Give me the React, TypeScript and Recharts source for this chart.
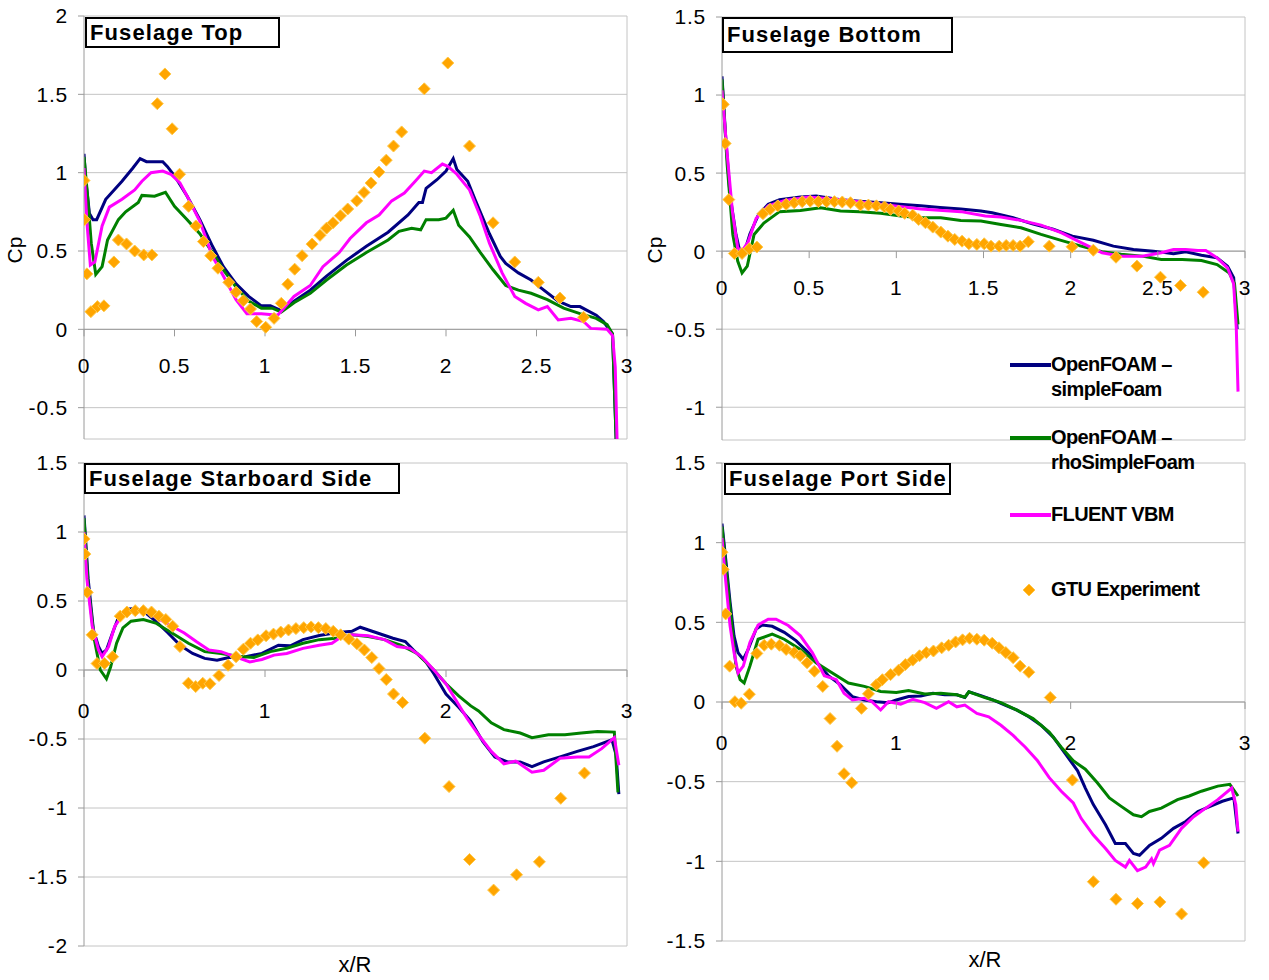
import { ComposedChart, Line, Scatter, XAxis, YAxis, CartesianGrid, ReferenceLine, ReferenceDot } from 'recharts'

type Pair = [number, number]

// ---- Fuselage Top ----
const topSimple: Pair[] = [[0,1.12],[0.01,0.95],[0.03,0.74],[0.05,0.70],[0.07,0.70],[0.12,0.83],[0.21,0.945],[0.27,1.03],[0.31,1.09],[0.345,1.07],[0.435,1.07],[0.46,1.04],[0.5,0.98],[0.57,0.85],[0.64,0.70],[0.71,0.53],[0.77,0.40],[0.84,0.29],[0.91,0.21],[0.98,0.15],[1.03,0.15],[1.09,0.12],[1.16,0.18],[1.25,0.25],[1.34,0.34],[1.45,0.44],[1.56,0.53],[1.68,0.62],[1.79,0.73],[1.85,0.81],[1.87,0.81],[1.89,0.90],[1.95,0.955],[2.0,1.01],[2.04,1.09],[2.06,1.02],[2.12,0.945],[2.16,0.83],[2.24,0.61],[2.30,0.465],[2.33,0.42],[2.40,0.36],[2.47,0.315],[2.53,0.26],[2.62,0.18],[2.69,0.145],[2.74,0.145],[2.83,0.09],[2.87,0.05],[2.92,-0.03],[2.94,-0.7]]
const topRho: Pair[] = [[0,1.10],[0.02,0.85],[0.04,0.55],[0.065,0.35],[0.10,0.40],[0.13,0.57],[0.19,0.70],[0.23,0.75],[0.30,0.81],[0.32,0.855],[0.39,0.85],[0.45,0.875],[0.50,0.785],[0.57,0.70],[0.64,0.61],[0.71,0.49],[0.77,0.38],[0.84,0.27],[0.91,0.18],[0.98,0.135],[1.04,0.135],[1.09,0.11],[1.16,0.17],[1.25,0.23],[1.34,0.315],[1.45,0.41],[1.56,0.49],[1.68,0.57],[1.74,0.625],[1.81,0.645],[1.86,0.635],[1.89,0.70],[1.96,0.70],[2.0,0.71],[2.04,0.76],[2.07,0.665],[2.13,0.59],[2.19,0.49],[2.26,0.38],[2.33,0.28],[2.40,0.25],[2.47,0.23],[2.56,0.19],[2.65,0.135],[2.74,0.10],[2.83,0.07],[2.89,0.03],[2.92,-0.03],[2.94,-0.7]]
const topFluent: Pair[] = [[0,1.03],[0.015,0.70],[0.035,0.41],[0.06,0.43],[0.10,0.66],[0.14,0.78],[0.21,0.83],[0.28,0.89],[0.32,0.945],[0.37,1.0],[0.435,1.01],[0.48,0.99],[0.53,0.935],[0.57,0.85],[0.64,0.69],[0.71,0.465],[0.77,0.34],[0.84,0.19],[0.90,0.10],[0.98,0.10],[1.07,0.09],[1.16,0.21],[1.25,0.28],[1.32,0.40],[1.41,0.49],[1.47,0.58],[1.56,0.68],[1.63,0.73],[1.70,0.82],[1.77,0.87],[1.83,0.945],[1.88,1.01],[1.92,1.0],[1.98,1.055],[2.01,1.04],[2.06,0.99],[2.13,0.89],[2.19,0.72],[2.24,0.55],[2.31,0.36],[2.38,0.21],[2.44,0.166],[2.51,0.124],[2.56,0.145],[2.62,0.06],[2.69,0.07],[2.76,0.05],[2.80,0.006],[2.89,0.0],[2.92,-0.04],[2.935,-0.24],[2.945,-0.7]]
const topExp: Pair[] = [[0,0.95],[0.003,0.70],[0.016,0.354],[0.038,0.113],[0.074,0.145],[0.11,0.15],[0.165,0.43],[0.19,0.57],[0.235,0.545],[0.28,0.50],[0.33,0.475],[0.375,0.475],[0.405,1.44],[0.447,1.63],[0.487,1.28],[0.528,0.99],[0.578,0.785],[0.618,0.66],[0.66,0.56],[0.70,0.47],[0.74,0.39],[0.80,0.30],[0.84,0.237],[0.88,0.183],[0.92,0.13],[0.954,0.05],[1.004,0.013],[1.05,0.07],[1.09,0.166],[1.126,0.288],[1.164,0.384],[1.205,0.47],[1.26,0.544],[1.304,0.60],[1.34,0.646],[1.376,0.68],[1.417,0.725],[1.457,0.768],[1.507,0.82],[1.547,0.874],[1.586,0.934],[1.63,1.004],[1.67,1.08],[1.71,1.17],[1.755,1.26],[1.88,1.535],[2.01,1.70],[2.13,1.17],[2.26,0.68],[2.38,0.43],[2.51,0.30],[2.63,0.20],[2.76,0.077]]

// ---- Fuselage Bottom ----
const bottomSimple: Pair[] = [[0,1.12],[0.02,0.75],[0.046,0.36],[0.08,0.107],[0.10,0.01],[0.13,0],[0.16,0.11],[0.21,0.235],[0.265,0.30],[0.33,0.33],[0.45,0.347],[0.54,0.353],[0.68,0.33],[0.79,0.32],[0.91,0.31],[1.02,0.30],[1.14,0.29],[1.25,0.28],[1.37,0.27],[1.485,0.257],[1.55,0.246],[1.67,0.214],[1.78,0.175],[1.90,0.14],[2.01,0.096],[2.13,0.07],[2.245,0.032],[2.36,0.01],[2.475,0],[2.59,-0.017],[2.66,-0.004],[2.75,-0.026],[2.84,-0.043],[2.90,-0.096],[2.935,-0.17],[2.955,-0.5]]
const bottomRho: Pair[] = [[0,1.10],[0.03,0.55],[0.062,0.107],[0.09,-0.064],[0.115,-0.14],[0.145,-0.096],[0.184,0.107],[0.24,0.18],[0.33,0.253],[0.45,0.26],[0.565,0.278],[0.68,0.257],[0.79,0.253],[0.91,0.242],[1.025,0.225],[1.14,0.214],[1.255,0.214],[1.37,0.197],[1.485,0.193],[1.60,0.171],[1.715,0.15],[1.83,0.107],[1.945,0.069],[2.06,0.032],[2.18,-0.004],[2.29,-0.02],[2.41,-0.032],[2.52,-0.054],[2.64,-0.054],[2.75,-0.06],[2.84,-0.086],[2.91,-0.14],[2.94,-0.21],[2.96,-0.47]]
const bottomFluent: Pair[] = [[0,1.03],[0.03,0.62],[0.06,0.25],[0.09,0.02],[0.115,0],[0.15,0.06],[0.196,0.21],[0.265,0.29],[0.36,0.325],[0.495,0.347],[0.68,0.33],[0.91,0.30],[1.14,0.27],[1.37,0.253],[1.51,0.225],[1.60,0.218],[1.715,0.197],[1.83,0.167],[1.945,0.118],[2.06,0.054],[2.18,-0.01],[2.29,-0.032],[2.41,-0.032],[2.52,-0.01],[2.59,0.01],[2.66,0.01],[2.73,0.004],[2.775,0.004],[2.84,-0.043],[2.90,-0.107],[2.935,-0.21],[2.95,-0.49],[2.96,-0.9]]
const bottomExp: Pair[] = [[0,0.946],[0.007,0.94],[0.018,0.69],[0.039,0.33],[0.071,-0.015],[0.115,-0.015],[0.157,0.015],[0.20,0.026],[0.235,0.24],[0.276,0.268],[0.32,0.29],[0.368,0.30],[0.414,0.31],[0.46,0.317],[0.506,0.32],[0.553,0.317],[0.60,0.317],[0.645,0.317],[0.69,0.315],[0.737,0.31],[0.794,0.295],[0.84,0.295],[0.886,0.29],[0.932,0.283],[0.967,0.268],[1.013,0.257],[1.048,0.242],[1.094,0.23],[1.128,0.203],[1.167,0.182],[1.209,0.154],[1.255,0.122],[1.296,0.096],[1.335,0.075],[1.377,0.064],[1.416,0.047],[1.462,0.043],[1.504,0.047],[1.543,0.032],[1.59,0.032],[1.63,0.036],[1.67,0.036],[1.71,0.032],[1.757,0.06],[1.877,0.032],[2.008,0.028],[2.13,0.006],[2.26,-0.039],[2.38,-0.096],[2.515,-0.167],[2.63,-0.22],[2.76,-0.263]]

// ---- Fuselage Starboard Side ----
const starSimple: Pair[] = [[0,1.12],[0.023,0.66],[0.052,0.29],[0.08,0.17],[0.10,0.12],[0.124,0.145],[0.158,0.27],[0.19,0.38],[0.237,0.44],[0.283,0.445],[0.34,0.415],[0.396,0.354],[0.463,0.27],[0.53,0.18],[0.60,0.12],[0.667,0.084],[0.735,0.071],[0.80,0.09],[0.893,0.096],[0.983,0.12],[1.074,0.18],[1.14,0.175],[1.21,0.22],[1.30,0.25],[1.39,0.27],[1.48,0.28],[1.526,0.31],[1.617,0.27],[1.707,0.23],[1.775,0.206],[1.82,0.145],[1.888,0.06],[1.933,-0.027],[2.0,-0.174],[2.07,-0.27],[2.137,-0.37],[2.204,-0.52],[2.27,-0.63],[2.34,-0.666],[2.41,-0.666],[2.475,-0.70],[2.54,-0.666],[2.63,-0.63],[2.725,-0.59],[2.815,-0.555],[2.917,-0.506],[2.94,-0.617],[2.955,-0.90]]
const starRho: Pair[] = [[0,1.10],[0.023,0.61],[0.057,0.22],[0.09,0],[0.124,-0.064],[0.147,0.022],[0.18,0.194],[0.215,0.305],[0.26,0.354],[0.328,0.366],[0.396,0.34],[0.486,0.268],[0.577,0.194],[0.667,0.133],[0.757,0.12],[0.848,0.10],[0.938,0.09],[1.03,0.133],[1.12,0.157],[1.21,0.194],[1.30,0.22],[1.39,0.23],[1.48,0.255],[1.57,0.243],[1.66,0.22],[1.75,0.18],[1.84,0.12],[1.933,0],[2.0,-0.1],[2.07,-0.187],[2.137,-0.26],[2.18,-0.297],[2.25,-0.383],[2.32,-0.432],[2.41,-0.457],[2.475,-0.49],[2.566,-0.47],[2.657,-0.47],[2.747,-0.457],[2.837,-0.445],[2.93,-0.45],[2.95,-0.887]]
const starFluent: Pair[] = [[0,1.0],[0.016,0.66],[0.045,0.32],[0.08,0.145],[0.10,0.096],[0.136,0.17],[0.17,0.317],[0.215,0.40],[0.283,0.44],[0.35,0.42],[0.418,0.366],[0.486,0.317],[0.554,0.268],[0.62,0.206],[0.69,0.145],[0.757,0.133],[0.825,0.10],[0.916,0.059],[0.983,0.076],[1.05,0.108],[1.12,0.12],[1.21,0.157],[1.30,0.18],[1.37,0.194],[1.41,0.23],[1.48,0.255],[1.57,0.248],[1.66,0.22],[1.73,0.17],[1.80,0.157],[1.865,0.096],[1.933,0],[2.0,-0.1],[2.046,-0.2],[2.114,-0.346],[2.18,-0.47],[2.25,-0.59],[2.32,-0.68],[2.385,-0.66],[2.475,-0.74],[2.54,-0.727],[2.63,-0.64],[2.725,-0.63],[2.79,-0.63],[2.86,-0.57],[2.93,-0.49],[2.955,-0.69]]
const starExp: Pair[] = [[0,0.95],[0.005,0.84],[0.018,0.563],[0.045,0.255],[0.072,0.047],[0.113,0.047],[0.158,0.096],[0.20,0.39],[0.237,0.42],[0.283,0.43],[0.328,0.43],[0.373,0.42],[0.414,0.39],[0.452,0.366],[0.49,0.317],[0.53,0.17],[0.577,-0.096],[0.617,-0.12],[0.656,-0.096],[0.696,-0.10],[0.746,-0.04],[0.796,0.034],[0.84,0.096],[0.88,0.15],[0.92,0.194],[0.96,0.218],[1.006,0.248],[1.047,0.26],[1.087,0.275],[1.13,0.29],[1.171,0.30],[1.214,0.307],[1.255,0.312],[1.295,0.307],[1.336,0.30],[1.377,0.28],[1.418,0.255],[1.463,0.224],[1.508,0.19],[1.549,0.145],[1.59,0.09],[1.63,0.01],[1.67,-0.069],[1.71,-0.174],[1.76,-0.236],[1.883,-0.494],[2.017,-0.845],[2.13,-1.373],[2.263,-1.595],[2.39,-1.484],[2.516,-1.39],[2.634,-0.93],[2.765,-0.747]]

// ---- Fuselage Port Side ----
const portSimple: Pair[] = [[0,1.12],[0.023,0.88],[0.046,0.63],[0.069,0.415],[0.092,0.31],[0.122,0.267],[0.15,0.33],[0.196,0.458],[0.23,0.483],[0.288,0.475],[0.357,0.437],[0.426,0.384],[0.495,0.31],[0.564,0.225],[0.61,0.165],[0.68,0.108],[0.748,0.034],[0.817,0.013],[0.886,0.002],[0.955,-0.004],[1.0,0.013],[1.07,0.034],[1.14,0.038],[1.21,0.055],[1.278,0.045],[1.347,0.045],[1.393,0.028],[1.416,0.064],[1.485,0.04],[1.554,0.013],[1.623,-0.019],[1.692,-0.051],[1.76,-0.093],[1.83,-0.146],[1.90,-0.22],[1.97,-0.326],[2.04,-0.432],[2.084,-0.54],[2.13,-0.644],[2.2,-0.77],[2.256,-0.888],[2.314,-0.888],[2.36,-0.95],[2.395,-0.962],[2.452,-0.90],[2.52,-0.856],[2.59,-0.793],[2.66,-0.75],[2.73,-0.687],[2.80,-0.655],[2.87,-0.623],[2.936,-0.602],[2.96,-0.825]]
const portRho: Pair[] = [[0,1.10],[0.023,0.84],[0.053,0.52],[0.08,0.225],[0.104,0.14],[0.127,0.12],[0.16,0.225],[0.207,0.394],[0.288,0.426],[0.357,0.394],[0.45,0.33],[0.54,0.246],[0.633,0.182],[0.725,0.119],[0.817,0.098],[0.91,0.066],[1.0,0.059],[1.07,0.072],[1.163,0.051],[1.255,0.055],[1.347,0.045],[1.393,0.03],[1.416,0.064],[1.508,0.028],[1.60,-0.004],[1.692,-0.051],[1.784,-0.104],[1.877,-0.189],[1.946,-0.284],[2.015,-0.369],[2.084,-0.422],[2.153,-0.507],[2.222,-0.602],[2.29,-0.655],[2.36,-0.708],[2.406,-0.72],[2.452,-0.687],[2.52,-0.666],[2.613,-0.613],[2.68,-0.59],[2.75,-0.56],[2.844,-0.528],[2.913,-0.517],[2.96,-0.59]]
const portFluent: Pair[] = [[0,1.03],[0.016,0.82],[0.046,0.48],[0.069,0.31],[0.092,0.182],[0.122,0.225],[0.16,0.373],[0.207,0.483],[0.265,0.52],[0.31,0.52],[0.38,0.48],[0.45,0.415],[0.518,0.31],[0.587,0.165],[0.656,0.14],[0.70,0.055],[0.748,0.013],[0.817,0.023],[0.86,0.002],[0.91,-0.05],[0.955,0.002],[1.025,-0.013],[1.094,0.017],[1.163,-0.004],[1.23,-0.04],[1.30,0.002],[1.347,-0.03],[1.393,-0.019],[1.462,-0.072],[1.53,-0.093],[1.60,-0.146],[1.67,-0.21],[1.74,-0.284],[1.81,-0.369],[1.877,-0.475],[1.946,-0.56],[2.015,-0.634],[2.06,-0.73],[2.13,-0.835],[2.2,-0.92],[2.256,-0.994],[2.314,-1.036],[2.337,-0.994],[2.383,-1.058],[2.43,-1.036],[2.464,-0.984],[2.475,-1.015],[2.51,-0.93],[2.567,-0.90],[2.636,-0.793],[2.705,-0.72],[2.775,-0.666],[2.844,-0.613],[2.924,-0.54],[2.947,-0.644],[2.96,-0.814]]
const portExp: Pair[] = [[0,0.94],[0.007,0.833],[0.021,0.553],[0.044,0.225],[0.074,0.002],[0.11,-0.008],[0.157,0.049],[0.20,0.305],[0.242,0.356],[0.283,0.363],[0.33,0.356],[0.368,0.33],[0.414,0.31],[0.449,0.29],[0.488,0.246],[0.53,0.193],[0.578,0.098],[0.62,-0.104],[0.66,-0.278],[0.70,-0.45],[0.744,-0.507],[0.80,-0.04],[0.84,0.051],[0.886,0.108],[0.92,0.14],[0.967,0.172],[1.013,0.20],[1.052,0.235],[1.094,0.263],[1.133,0.29],[1.172,0.31],[1.213,0.32],[1.26,0.34],[1.30,0.356],[1.34,0.377],[1.38,0.39],[1.42,0.40],[1.462,0.394],[1.504,0.388],[1.55,0.369],[1.589,0.34],[1.628,0.31],[1.67,0.278],[1.71,0.225],[1.76,0.187],[1.883,0.028],[2.01,-0.49],[2.13,-1.128],[2.26,-1.238],[2.383,-1.265],[2.512,-1.255],[2.636,-1.33],[2.763,-1.009]]

const topYTicks = [-0.5, 0, 0.5, 1, 1.5, 2]
const bottomYTicks = [-1, -0.5, 0, 0.5, 1, 1.5]
const starYTicks = [-2, -1.5, -1, -0.5, 0, 0.5, 1, 1.5]
const portYTicks = [-1.5, -1, -0.5, 0, 0.5, 1, 1.5]
const halfXTicks = [0, 0.5, 1, 1.5, 2, 2.5, 3]
const wholeXTicks = [0, 1, 2, 3]

const NAVY = '#000080'
const GREEN = '#008000'
const MAGENTA = '#ff00ff'
const ORANGE = '#ffa500'
const GRID = '#c4c4c4'
const AXIS = '#9a9a9a'
const FONT = '"Liberation Sans", Arial, sans-serif'

const toPts = (a: Pair[]) => a.map(([x, y]) => ({ x, y }))

function Diamond(props: any) {
  const { cx, cy } = props
  if (cx == null || cy == null) return null
  return <path d={`M${cx},${cy - 6}L${cx + 6},${cy}L${cx},${cy + 6}L${cx - 6},${cy}Z`} fill={ORANGE} stroke="#ffc94a" strokeWidth={1} />
}

// x tick labels sit under the y=0 line, not at the bottom of the plot
const zeroTick = (label: number, dy: number) => (p: any) => (
  <g>
    <line x1={p.cx} y1={p.cy} x2={p.cx} y2={p.cy + 7} stroke={AXIS} />
    <text x={p.cx} y={p.cy + dy} textAnchor="middle" dominantBaseline="central" fontSize={21} letterSpacing={0.8} fontFamily={FONT} fill="#000">{label}</text>
  </g>
)

interface PanelProps {
  left: number; top: number; width: number; height: number
  margin: { top: number; right: number; bottom: number; left: number }
  yWidth: number
  domain: [number, number]
  yTicks: number[]; xTicks: number[]; labelGap: number
  simple: Pair[]; rho: Pair[]; fluent: Pair[]; exp: Pair[]
}

function Panel(p: PanelProps) {
  return (
    <div style={{ position: 'absolute', left: p.left, top: p.top }}>
      <ComposedChart width={p.width} height={p.height} margin={p.margin}>
        <CartesianGrid stroke={GRID} vertical={false} />
        <XAxis type="number" dataKey="x" domain={[0, 3]} hide allowDataOverflow />
        <YAxis type="number" dataKey="y" domain={p.domain} ticks={p.yTicks} interval={0} width={p.yWidth}
          allowDataOverflow tickSize={6} tickMargin={10} stroke={AXIS}
          tick={{ fill: '#000', fontSize: 21, fontFamily: FONT, letterSpacing: 0.8 }} />
        <ReferenceLine x={3} stroke={GRID} />
        <ReferenceLine y={0} stroke={AXIS} />
        {p.xTicks.map(t => (
          <ReferenceDot key={t} x={t} y={0} r={0} shape={zeroTick(t, p.labelGap)} />
        ))}
        <Line data={toPts(p.simple)} dataKey="y" stroke={NAVY} strokeWidth={3} dot={false} isAnimationActive={false} />
        <Line data={toPts(p.rho)} dataKey="y" stroke={GREEN} strokeWidth={3} dot={false} isAnimationActive={false} />
        <Line data={toPts(p.fluent)} dataKey="y" stroke={MAGENTA} strokeWidth={3} dot={false} isAnimationActive={false} />
        <Scatter data={toPts(p.exp)} dataKey="y" shape={<Diamond />} isAnimationActive={false} />
      </ComposedChart>
    </div>
  )
}

const titleStyle = (left: number, top: number, width: number, height: number): React.CSSProperties => ({
  position: 'absolute', left, top, width, height, boxSizing: 'border-box',
  border: '2px solid #000', background: '#fff', fontFamily: FONT, fontWeight: 'bold',
  fontSize: 22, lineHeight: `${height - 4}px`, paddingLeft: 3, letterSpacing: 1.1, whiteSpace: 'nowrap',
})

const legendText: React.CSSProperties = {
  position: 'absolute', fontFamily: FONT, fontWeight: 'bold', fontSize: 20, lineHeight: '25px',
  letterSpacing: -0.6, color: '#000', whiteSpace: 'nowrap',
}

export default function App() {
  return (
    <div style={{ position: 'absolute', left: 0, top: 0, width: 1269, height: 980, background: '#fff', overflow: 'hidden' }}>
      <Panel left={0} top={0} width={640} height={450} yWidth={84}
        margin={{ top: 16, right: 13, bottom: 11, left: 0 }} domain={[-0.7, 2]}
        yTicks={topYTicks} xTicks={halfXTicks} labelGap={36}
        simple={topSimple} rho={topRho} fluent={topFluent} exp={topExp} />
      <Panel left={640} top={0} width={629} height={450} yWidth={82}
        margin={{ top: 17, right: 24, bottom: 10, left: 0 }} domain={[-1.21, 1.5]}
        yTicks={bottomYTicks} xTicks={halfXTicks} labelGap={36}
        simple={bottomSimple} rho={bottomRho} fluent={bottomFluent} exp={bottomExp} />
      <Panel left={0} top={450} width={640} height={530} yWidth={84}
        margin={{ top: 13, right: 13, bottom: 34, left: 0 }} domain={[-2, 1.5]}
        yTicks={starYTicks} xTicks={wholeXTicks} labelGap={40}
        simple={starSimple} rho={starRho} fluent={starFluent} exp={starExp} />
      <Panel left={640} top={450} width={629} height={530} yWidth={82}
        margin={{ top: 13, right: 24, bottom: 39, left: 0 }} domain={[-1.5, 1.5]}
        yTicks={portYTicks} xTicks={wholeXTicks} labelGap={40}
        simple={portSimple} rho={portRho} fluent={portFluent} exp={portExp} />

      <div style={titleStyle(85, 17, 195, 31)}>Fuselage Top</div>
      <div style={titleStyle(722, 17, 231, 36)}>Fuselage Bottom</div>
      <div style={titleStyle(84, 463, 316, 31)}>Fuselage Starboard Side</div>
      <div style={titleStyle(724, 463, 227, 32)}>Fuselage Port Side</div>

      {/* axis titles */}
      <div style={{ position: 'absolute', left: 15, top: 250, transform: 'translate(-50%,-50%) rotate(-90deg)', fontFamily: FONT, fontSize: 21 }}>Cp</div>
      <div style={{ position: 'absolute', left: 655, top: 250, transform: 'translate(-50%,-50%) rotate(-90deg)', fontFamily: FONT, fontSize: 21 }}>Cp</div>
      <div style={{ position: 'absolute', left: 355, top: 965, transform: 'translate(-50%,-50%)', fontFamily: FONT, fontSize: 22 }}>x/R</div>
      <div style={{ position: 'absolute', left: 985, top: 960, transform: 'translate(-50%,-50%)', fontFamily: FONT, fontSize: 22 }}>x/R</div>

      {/* legend */}
      <div style={{ position: 'absolute', left: 1010, top: 363, width: 41, height: 4, background: NAVY }} />
      <div style={{ ...legendText, left: 1051, top: 352 }}>OpenFOAM –<br />simpleFoam</div>
      <div style={{ position: 'absolute', left: 1010, top: 436, width: 41, height: 4, background: GREEN }} />
      <div style={{ ...legendText, left: 1051, top: 425 }}>OpenFOAM –<br />rhoSimpleFoam</div>
      <div style={{ position: 'absolute', left: 1010, top: 513, width: 41, height: 4, background: MAGENTA }} />
      <div style={{ ...legendText, left: 1051, top: 502 }}>FLUENT VBM</div>
      <svg style={{ position: 'absolute', left: 1021, top: 582 }} width={16} height={16}>
        <path d="M8,2L14,8L8,14L2,8Z" fill={ORANGE} stroke="#ffc94a" strokeWidth={1} />
      </svg>
      <div style={{ ...legendText, left: 1051, top: 577 }}>GTU Experiment</div>
    </div>
  )
}
